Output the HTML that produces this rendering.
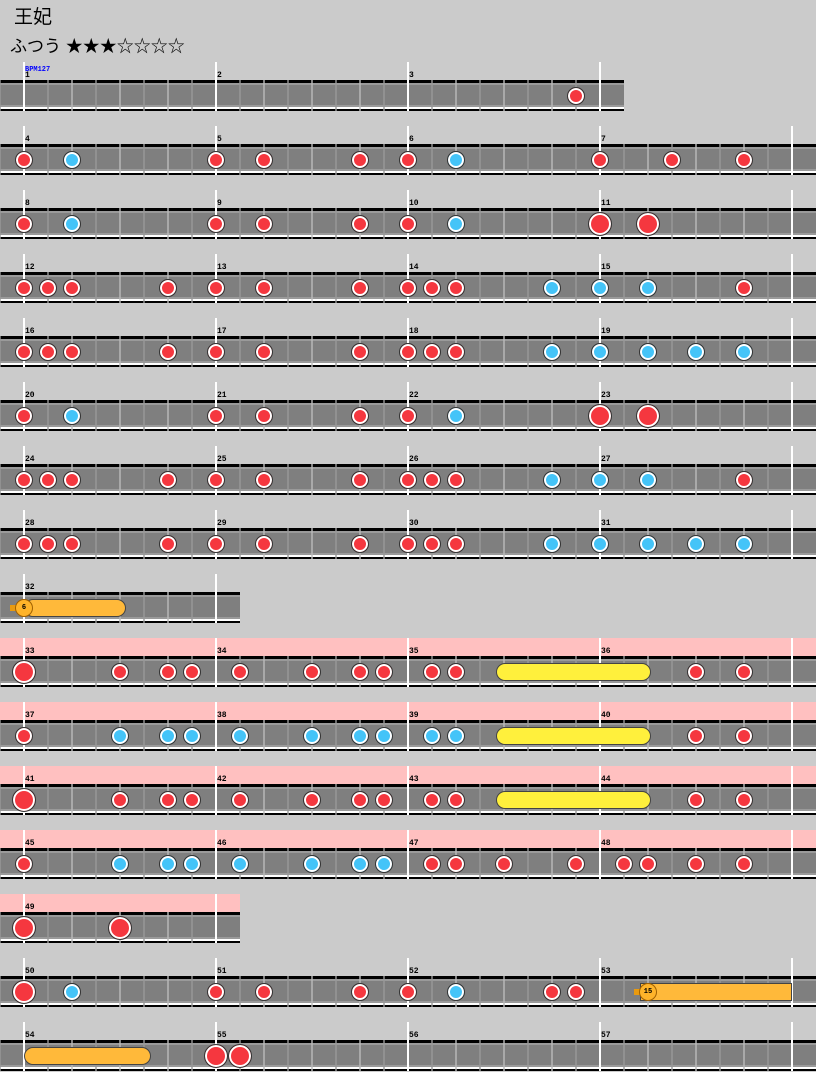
<!DOCTYPE html><html><head><meta charset="utf-8"><style>
body{margin:0;width:816px;height:1072px;background:#cbcbcb;position:relative;overflow:hidden;font-family:"Liberation Sans","Noto Sans CJK JP",sans-serif}
div{position:absolute;box-sizing:border-box}
.n{border-radius:50%;border:1px solid #333;box-shadow:inset 0 0 0 2px #fff}
.num{font:bold 8px "Liberation Mono",monospace;color:#000;line-height:8px}
</style></head><body>
<div style="left:14px;top:6px;font-size:19px;line-height:24px">王妃</div>
<div style="left:10px;top:36px;font-size:17px;line-height:22px">ふつう ★★★☆☆☆☆</div>
<div class="num" style="left:25px;top:66px;color:#00f;font-size:7px">BPM127</div>
<script>
const R='#f5373f',B='#44c4f8';
const rows=[
{w:624,m:1,n:[[576,'r']]},
{w:816,m:4,n:[[24,'r'],[72,'b'],[216,'r'],[264,'r'],[360,'r'],[408,'r'],[456,'b'],[600,'r'],[672,'r'],[744,'r']]},
{w:816,m:8,n:[[24,'r'],[72,'b'],[216,'r'],[264,'r'],[360,'r'],[408,'r'],[456,'b'],[600,'R'],[648,'R']]},
{w:816,m:12,n:[[24,'r'],[48,'r'],[72,'r'],[168,'r'],[216,'r'],[264,'r'],[360,'r'],[408,'r'],[432,'r'],[456,'r'],[552,'b'],[600,'b'],[648,'b'],[744,'r']]},
{w:816,m:16,n:[[24,'r'],[48,'r'],[72,'r'],[168,'r'],[216,'r'],[264,'r'],[360,'r'],[408,'r'],[432,'r'],[456,'r'],[552,'b'],[600,'b'],[648,'b'],[696,'b'],[744,'b']]},
{w:816,m:20,n:[[24,'r'],[72,'b'],[216,'r'],[264,'r'],[360,'r'],[408,'r'],[456,'b'],[600,'R'],[648,'R']]},
{w:816,m:24,n:[[24,'r'],[48,'r'],[72,'r'],[168,'r'],[216,'r'],[264,'r'],[360,'r'],[408,'r'],[432,'r'],[456,'r'],[552,'b'],[600,'b'],[648,'b'],[744,'r']]},
{w:816,m:28,n:[[24,'r'],[48,'r'],[72,'r'],[168,'r'],[216,'r'],[264,'r'],[360,'r'],[408,'r'],[432,'r'],[456,'r'],[552,'b'],[600,'b'],[648,'b'],[696,'b'],[744,'b']]},
{w:240,m:32,n:[],roll:[24,126,'#ffb93a'],bal:[24,'6']},
{w:816,m:33,p:1,n:[[24,'R'],[120,'r'],[168,'r'],[192,'r'],[240,'r'],[312,'r'],[360,'r'],[384,'r'],[432,'r'],[456,'r'],[696,'r'],[744,'r']],roll:[496,651,'#fff03c']},
{w:816,m:37,p:1,n:[[24,'r'],[120,'b'],[168,'b'],[192,'b'],[240,'b'],[312,'b'],[360,'b'],[384,'b'],[432,'b'],[456,'b'],[696,'r'],[744,'r']],roll:[496,651,'#fff03c']},
{w:816,m:41,p:1,n:[[24,'R'],[120,'r'],[168,'r'],[192,'r'],[240,'r'],[312,'r'],[360,'r'],[384,'r'],[432,'r'],[456,'r'],[696,'r'],[744,'r']],roll:[496,651,'#fff03c']},
{w:816,m:45,p:1,n:[[24,'r'],[120,'b'],[168,'b'],[192,'b'],[240,'b'],[312,'b'],[360,'b'],[384,'b'],[432,'r'],[456,'r'],[504,'r'],[576,'r'],[624,'r'],[648,'r'],[696,'r'],[744,'r']]},
{w:240,m:49,p:1,n:[[24,'R'],[120,'R']]},
{w:816,m:50,n:[[24,'R'],[72,'b'],[216,'r'],[264,'r'],[360,'r'],[408,'r'],[456,'b'],[552,'r'],[576,'r']],roll:[640,792,'#ffb93a',1],bal:[648,'15']},
{w:816,m:54,n:[[216,'R'],[240,'R']],roll:[24,151,'#ffb93a']}
];
let h='';
rows.forEach((r,i)=>{
 const T=62+64*i,w=r.w;
 if(r.p)h+=`<div style="left:0;top:${T}px;width:${w}px;height:18px;background:#ffc0c0"></div>`;
 h+=`<div style="left:0;top:${T+18}px;width:${w}px;height:3px;background:#000"></div>`;
 h+=`<div style="left:0;top:${T+21}px;width:${w}px;height:24px;background:#7f7f7f;border-top:2px solid #9a9a9a;border-bottom:2px solid #9a9a9a"></div>`;
 h+=`<div style="left:0;top:${T+45}px;width:${w}px;height:2px;background:#fff"></div>`;
 h+=`<div style="left:0;top:${T+47}px;width:${w}px;height:2px;background:#000"></div>`;
 for(let x=0;x<w;x+=24){ if((x-24)%192==0)continue;
  h+=`<div style="left:${x-1}px;top:${T+18}px;width:2px;height:31px;background:${(x%48==0)?'#999':'#bbb'};opacity:.7"></div>`;}
 let k=0;
 for(let x=24;x<w;x+=192){
  h+=`<div style="left:${x-1}px;top:${T}px;width:2px;height:49px;background:#fff"></div>`;
  if(x+192<=w)h+=`<div class="num" style="left:${x+1}px;top:${T+10}px">${r.m+k}</div>`;k++;}
 const c=T+34;
 if(r.roll){const [a,b,col,sq]=r.roll;
  h+=`<div style="left:${a}px;top:${c-9}px;width:${b-a}px;height:18px;background:${col};border:1px solid #444;border-radius:${sq?'0':'9px'}"></div>`;}
 if(r.bal){const [x,t]=r.bal;
  h+=`<div style="left:${x-14}px;top:${c-3}px;width:8px;height:6px;background:#e89a10"></div>`;
  h+=`<div class="n num" style="left:${x-9}px;top:${c-9}px;width:18px;height:18px;background:#ffb42a;box-shadow:none;border-color:#a06000;text-align:center;line-height:16px;font-size:7px">${t}</div>`;}
 r.n.forEach(([x,t])=>{const big=t=='R',col=t=='b'?B:R,d=big?24:18;
  h+=`<div class="n" style="left:${x-d/2}px;top:${c-d/2}px;width:${d}px;height:${d}px;background:${col}"></div>`;});
});
document.write(h);
</script>
</body></html>
